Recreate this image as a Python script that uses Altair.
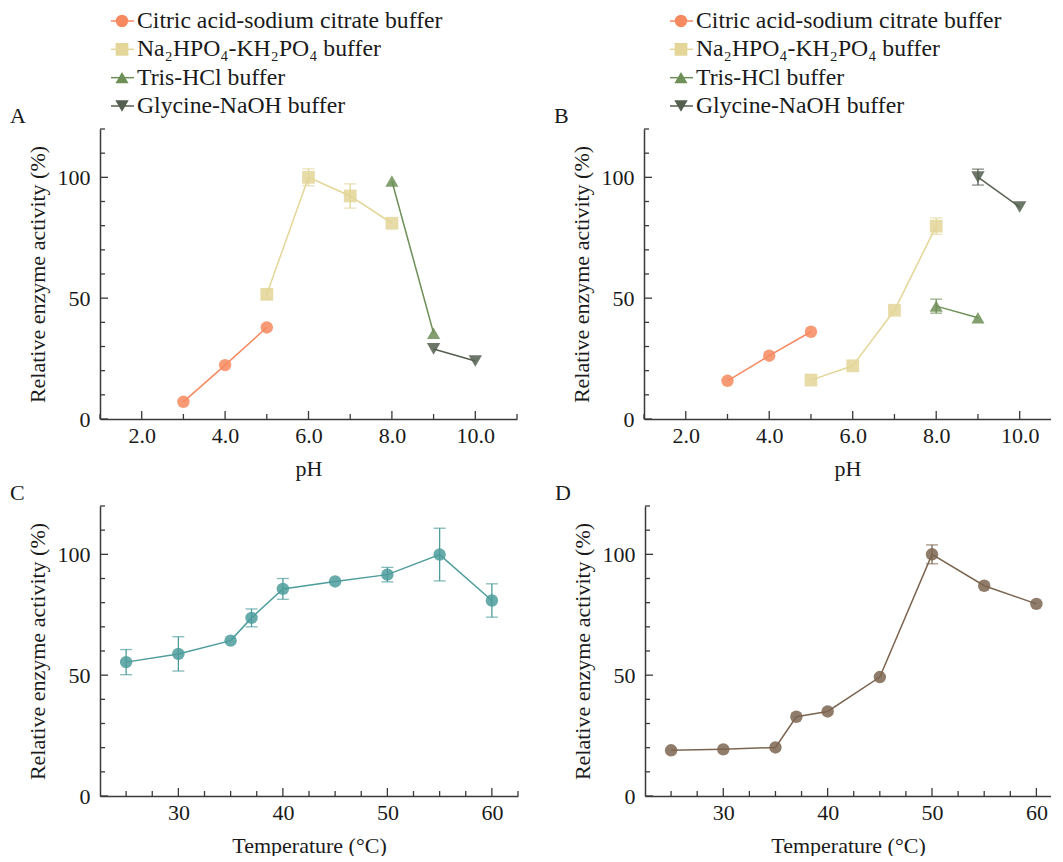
import altair as alt
import pandas as pd

FONT = "Liberation Serif"
TXT = "#1a1a1a"
AXC = "#3a3a3a"

# ---------------- data ----------------
buffers = ["Citric acid-sodium citrate buffer", "Na₂HPO₄-KH₂PO₄ buffer",
           "Tris-HCl buffer", "Glycine-NaOH buffer"]
buffer_colors = ["#F6895F", "#E3D698", "#6E8F57", "#545F4F"]
buffer_shapes = ["circle", "square", "triangle-up", "triangle-down"]
buffer_sizes = [155, 180, 160, 160]

# Panel A (pH, free enzyme)
a_citric_ph = [3, 4, 5]
a_citric_act = [7.1, 22.3, 37.9]
a_citric_err = [0, 0, 0]
a_phos_ph = [5, 6, 7, 8]
a_phos_act = [51.6, 100.0, 92.3, 81.0]
a_phos_err = [2.0, 3.5, 5.0, 0]
a_tris_ph = [8, 9]
a_tris_act = [98.5, 35.5]
a_tris_err = [0, 0]
a_gly_ph = [9, 10]
a_gly_act = [29.0, 24.0]
a_gly_err = [0, 0]

# Panel B (pH, second enzyme)
b_citric_ph = [3, 4, 5]
b_citric_act = [15.8, 26.2, 36.1]
b_citric_err = [0, 0, 0]
b_phos_ph = [5, 6, 7, 8]
b_phos_act = [16.1, 22.0, 45.0, 79.8]
b_phos_err = [0, 0, 0, 3.4]
b_tris_ph = [8, 9]
b_tris_act = [46.7, 41.9]
b_tris_err = [2.9, 0]
b_gly_ph = [9, 10]
b_gly_act = [100.1, 87.7]
b_gly_err = [3.3, 0]

# Panels C and D (temperature)
temps = [25, 30, 35, 37, 40, 45, 50, 55, 60]
c_act = [55.4, 58.8, 64.3, 73.7, 85.7, 88.8, 91.6, 99.9, 80.9]
c_err = [5.2, 7.1, 0, 3.7, 4.3, 0, 3.0, 10.9, 6.9]
d_act = [18.9, 19.3, 20.1, 32.8, 35.0, 49.2, 100.0, 87.0, 79.5]
d_err = [0, 0, 0, 0, 0, 0, 3.9, 0, 0]

c_color = "#4E9C9C"
d_color = "#7C6550"

# axis ticks / labels
ph_labels = [2, 4, 6, 8, 10]
ph_minor = [1, 3, 5, 7, 9, 11]
y_labels = [0, 50, 100]
y_minor = [10, 20, 30, 40, 60, 70, 80, 90, 110, 120]
t_labels = [30, 40, 50, 60]
t_minor = [25, 27.5, 32.5, 35, 37.5, 42.5, 45, 47.5, 52.5, 55, 57.5, 62.5]

H = 290
MAJ = 8
MIN = 5
Y_TITLE = "Relative enzyme activity (%)"
LEG_FS = 23.7


def buffer_df(groups):
    rows = []
    for name, xs, ys, es in groups:
        for x, y, e in zip(xs, ys, es):
            rows.append({"buffer": name, "x": x, "act": y,
                         "lo": y - e, "hi": y + e, "err": e})
    return pd.DataFrame(rows)


def tick_layers(xscale, xaxis, yscale, yaxis, xmaj, xmin, xmax):
    out = []
    for vals, ln in ((xmaj, MAJ), (xmin, MIN)):
        vals = [v for v in vals if v <= xmax]
        out.append(alt.Chart(pd.DataFrame({"v": vals})).mark_rule(
            color=AXC, strokeWidth=1.3).encode(
            x=alt.X("v:Q", scale=xscale, axis=xaxis),
            y=alt.value(H), y2=alt.value(H - ln)))
    for vals, ln in ((y_labels, MAJ), (y_minor, MIN)):
        out.append(alt.Chart(pd.DataFrame({"v": vals})).mark_rule(
            color=AXC, strokeWidth=1.3).encode(
            y=alt.Y("v:Q", scale=yscale, axis=yaxis),
            x=alt.value(0), x2=alt.value(ln)))
    return out


def letter_layer(letter):
    return alt.Chart(pd.DataFrame({"t": [letter]})).mark_text(
        align="left", baseline="alphabetic", font=FONT, fontSize=22,
        color=TXT).encode(text="t:N", x=alt.value(-90), y=alt.value(-6))


def x_axis(values, title, fmt=None):
    kw = dict(values=values, title=title, titlePadding=12, labelPadding=6)
    if fmt:
        kw["format"] = fmt
    return alt.Axis(**kw)


def y_axis():
    return alt.Axis(values=y_labels, title=Y_TITLE, labelPadding=10,
                    titlePadding=8)


def ph_panel(df, letter, xmax, width, leg_x):
    xs = alt.Scale(domain=[1, xmax], nice=False, zero=False)
    ys = alt.Scale(domain=[0, 120], nice=False)
    xaxis = x_axis(ph_labels, "pH", ".1f")
    yaxis = y_axis()
    X = alt.X("x:Q", scale=xs, axis=xaxis)
    Y = alt.Y("act:Q", scale=ys, axis=yaxis)
    color = alt.Color("buffer:N", scale=alt.Scale(domain=buffers, range=buffer_colors), legend=None)
    shape = alt.Shape("buffer:N", scale=alt.Scale(domain=buffers, range=buffer_shapes), legend=None)
    size = alt.Size("buffer:N", scale=alt.Scale(domain=buffers, range=buffer_sizes), legend=None)
    base = alt.Chart(df)
    line = base.mark_line(strokeWidth=1.5).encode(x=X, y=Y, color=color)
    eb = base.transform_filter("datum.err > 0")
    err = eb.mark_rule(strokeWidth=1.3).encode(
        x=X, y=alt.Y("lo:Q", scale=ys, axis=yaxis), y2="hi:Q", color=color)
    cap_lo = eb.mark_tick(orient="horizontal", size=12, thickness=1.3).encode(
        x=X, y=alt.Y("lo:Q", scale=ys, axis=yaxis), color=color)
    cap_hi = eb.mark_tick(orient="horizontal", size=12, thickness=1.3).encode(
        x=X, y=alt.Y("hi:Q", scale=ys, axis=yaxis), color=color)
    pts = base.mark_point(filled=True, opacity=0.85).encode(
        x=X, y=Y, color=color, shape=shape, size=size)
    main = alt.layer(line, err, cap_lo, cap_hi, pts,
                     *tick_layers(xs, xaxis, ys, yaxis, ph_labels, ph_minor, xmax))

    # legend drawn from the same colour / shape scales
    leg = alt.Chart(pd.DataFrame({"buffer": buffers}))
    ly = alt.Y("buffer:N", scale=alt.Scale(type="point", domain=buffers,
                                           range=[-108, -23], padding=0), axis=None)
    leg_rule = leg.mark_rule(strokeWidth=1.5).encode(
        x=alt.value(leg_x - 11), x2=alt.value(leg_x + 12), y=ly, color=color)
    leg_pt = leg.mark_point(filled=True, opacity=1).encode(
        x=alt.value(leg_x), y=ly, color=color, shape=shape, size=size)
    leg_txt = leg.mark_text(align="left", baseline="middle", font=FONT,
                            fontSize=LEG_FS, color=TXT).encode(
        x=alt.value(leg_x + 15), y=ly, text="buffer:N")
    legend = alt.layer(leg_rule, leg_pt, leg_txt, letter_layer(letter))

    return alt.layer(main, legend).resolve_scale(y="independent").properties(
        width=width, height=H)


def t_panel(acts, errs, col, letter, xmax, width):
    df = pd.DataFrame({"x": temps, "act": acts, "err": errs})
    df["lo"] = df["act"] - df["err"]
    df["hi"] = df["act"] + df["err"]
    xs = alt.Scale(domain=[22.5, xmax], nice=False, zero=False)
    ys = alt.Scale(domain=[0, 120], nice=False)
    xaxis = x_axis(t_labels, "Temperature (°C)")
    yaxis = y_axis()
    X = alt.X("x:Q", scale=xs, axis=xaxis)
    Y = alt.Y("act:Q", scale=ys, axis=yaxis)
    base = alt.Chart(df)
    line = base.mark_line(strokeWidth=1.5, color=col).encode(x=X, y=Y)
    eb = base.transform_filter("datum.err > 0")
    err = eb.mark_rule(strokeWidth=1.3, color=col).encode(
        x=X, y=alt.Y("lo:Q", scale=ys, axis=yaxis), y2="hi:Q")
    cap_lo = eb.mark_tick(orient="horizontal", size=12, thickness=1.3, color=col).encode(
        x=X, y=alt.Y("lo:Q", scale=ys, axis=yaxis))
    cap_hi = eb.mark_tick(orient="horizontal", size=12, thickness=1.3, color=col).encode(
        x=X, y=alt.Y("hi:Q", scale=ys, axis=yaxis))
    pts = base.mark_point(filled=True, opacity=0.85, size=155, shape="circle",
                          color=col).encode(x=X, y=Y)
    return alt.layer(line, err, cap_lo, cap_hi, pts,
                     *tick_layers(xs, xaxis, ys, yaxis, t_labels, t_minor, xmax),
                     letter_layer(letter)).properties(width=width, height=H)


df_a = buffer_df([
    (buffers[0], a_citric_ph, a_citric_act, a_citric_err),
    (buffers[1], a_phos_ph, a_phos_act, a_phos_err),
    (buffers[2], a_tris_ph, a_tris_act, a_tris_err),
    (buffers[3], a_gly_ph, a_gly_act, a_gly_err),
])
df_b = buffer_df([
    (buffers[0], b_citric_ph, b_citric_act, b_citric_err),
    (buffers[1], b_phos_ph, b_phos_act, b_phos_err),
    (buffers[2], b_tris_ph, b_tris_act, b_tris_err),
    (buffers[3], b_gly_ph, b_gly_act, b_gly_err),
])

pa = ph_panel(df_a, "A", 11, 417, 22)
pb = ph_panel(df_b, "B", 10.75, 407, 37)
pc = t_panel(c_act, c_err, c_color, "C", 62.5, 418)
pd_ = t_panel(d_act, d_err, d_color, "D", 61.4, 406)

chart = alt.vconcat(
    alt.hconcat(pa, pb, spacing=36),
    alt.hconcat(pc, pd_, spacing=36),
    spacing=3,
).properties(
    padding={"left": 2, "top": 1, "right": 0, "bottom": 0},
    background="white",
).configure_view(stroke=None).configure_axis(
    domainColor=AXC, domainWidth=1.5, ticks=False, tickSize=0, grid=False,
    labelFont=FONT, labelFontSize=22, labelColor=TXT,
    titleFont=FONT, titleFontSize=22, titleFontWeight="normal",
    titleColor=TXT,
)

chart.save("out.html", embed_options={"renderer": "svg", "actions": False})
